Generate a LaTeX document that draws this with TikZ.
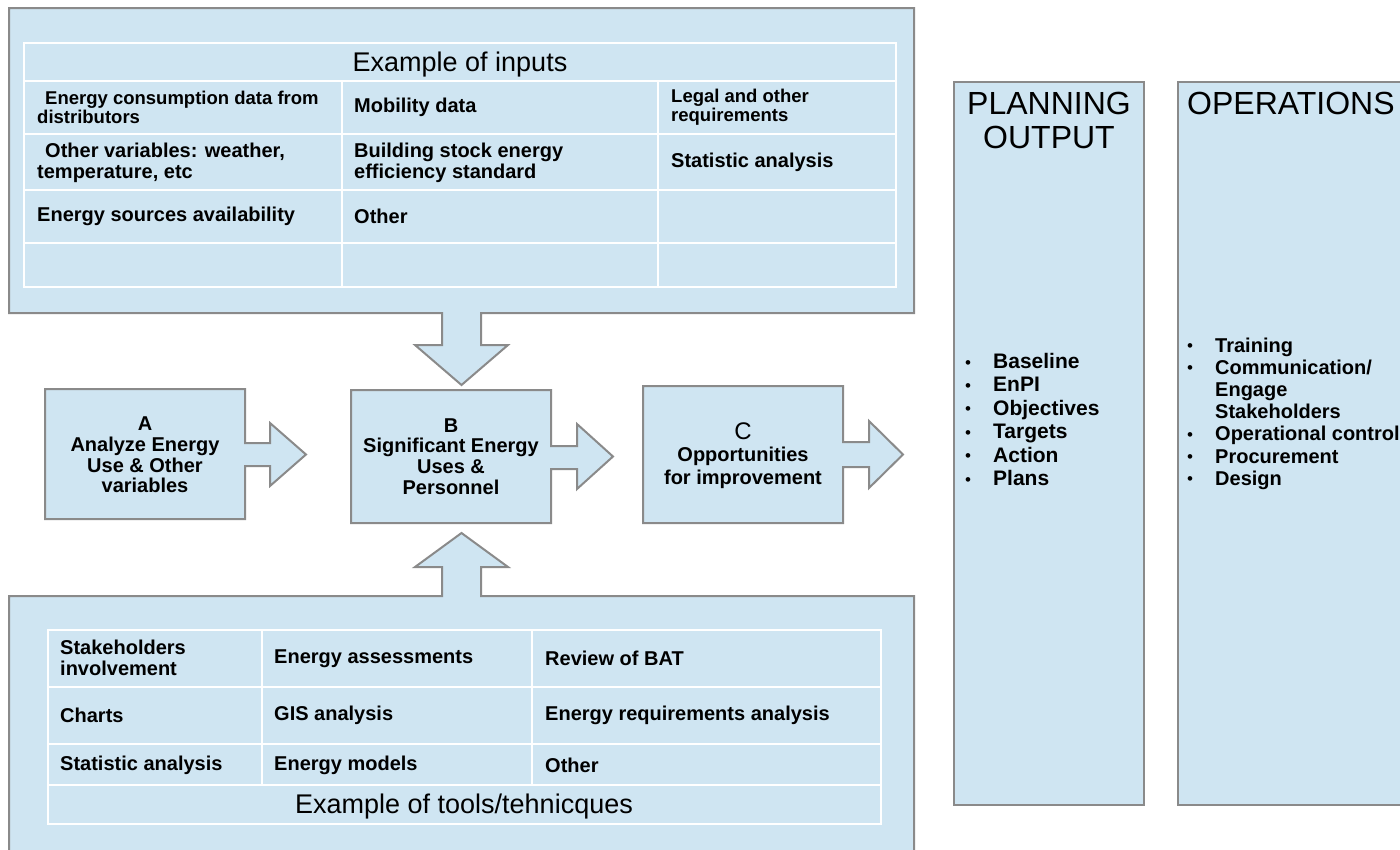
\documentclass[tikz,border=0pt]{standalone}
\usepackage{fontspec}
\setmainfont{Liberation Sans}
\definecolor{boxblue}{RGB}{207,229,242}
\definecolor{edgegray}{RGB}{138,138,138}
\newcommand\cellfont{\fontsize{20}{20.7}\selectfont\bfseries}
\newcommand\smallcellfont{\fontsize{18.5}{19.3}\selectfont\bfseries}
\newcommand\tabtitlefont{\fontsize{27}{30}\selectfont}
\newcommand\bigtitlefont{\fontsize{32}{34}\selectfont}
\newcommand\planfont{\fontsize{21}{23.4}\selectfont\bfseries}
\newcommand\opsfont{\fontsize{20}{22.2}\selectfont\bfseries}
\newcommand\blt{\makebox[28pt][l]{\raisebox{0.5pt}{\fontsize{17}{17}\selectfont\mdseries •}}}
\tikzset{
  panel/.style={fill=boxblue, draw=edgegray, line width=2pt, line join=miter},
  gridline/.style={draw=white, line width=2pt},
  cell/.style={anchor=west, align=left, inner sep=0pt, font=\cellfont},
  smallcell/.style={cell, font=\smallcellfont},
  tabtitle/.style={anchor=base, inner sep=0pt, font=\tabtitlefont},
  boxtext/.style={align=center, inner sep=0pt, font=\cellfont},
}
\begin{document}
\begin{tikzpicture}[x=1pt,y=-1pt]
\useasboundingbox (0,0) rectangle (1400,849);
\clip (0,0) rectangle (1400,849);

% ---------- top panel with down arrow ----------
\draw[panel] (9,8) -- (914,8) -- (914,313) -- (481,313) -- (481,345) -- (508,345)
  -- (461.5,385) -- (415,345) -- (442,345) -- (442,313) -- (9,313) -- cycle;
% table
\draw[gridline] (24,43) rectangle (896,287);
\foreach \yy in {81,134,190,243} \draw[gridline] (24,\yy) -- (896,\yy);
\foreach \xx in {342,658} \draw[gridline] (\xx,81) -- (\xx,287);
\node[tabtitle] (intitle) at (460,71) {Example of inputs};
\node[smallcell] (in11) at (37,107.5) {\hspace*{8pt}Energy consumption data from\\distributors};
\node[cell] (in12) at (354,107.5) {Mobility data};
\node[smallcell] (in13) at (671,107.5) {Legal and other\\requirements};
\node[cell] (in21) at (37,163) {\hspace*{8pt}Other variables: weather,\\temperature, etc};
\node[cell] (in22) at (354,163) {Building stock energy\\efficiency standard};
\node[cell] (in23) at (671,162) {Statistic analysis};
\node[cell] (in31) at (37,216.5) {Energy sources availability};
\node[cell] (in32) at (354,216.5) {Other};

% ---------- bottom panel with up arrow ----------
\draw[panel] (9,596) -- (442,596) -- (442,567) -- (415,567) -- (461.5,533) -- (508,567)
  -- (481,567) -- (481,596) -- (914,596) -- (914,860) -- (9,860) -- cycle;
\draw[gridline] (48,630) rectangle (881,824);
\foreach \yy in {687,744,785} \draw[gridline] (48,\yy) -- (881,\yy);
\foreach \xx in {262,532} \draw[gridline] (\xx,630) -- (\xx,785);
\node[cell] (t11) at (60,657.5) {Stakeholders\\involvement};
\node[cell] (t12) at (274,658.5) {Energy assessments};
\node[cell] (t13) at (545,658.5) {Review of BAT};
\node[cell] (t21) at (60,715) {Charts};
\node[cell] (t22) at (274,715) {GIS analysis};
\node[cell] (t23) at (545,715) {Energy requirements analysis};
\node[cell] (t31) at (60,765) {Statistic analysis};
\node[cell] (t32) at (274,765) {Energy models};
\node[cell] (t33) at (545,765) {Other};
\node[tabtitle] (tooltitle) at (464,813) {Example of tools/tehnicques};

% ---------- boxes A, B, C with arrows ----------
\draw[panel] (45,389) -- (245,389) -- (245,443) -- (270,443) -- (270,423) -- (306,454.5)
  -- (270,486) -- (270,466) -- (245,466) -- (245,519) -- (45,519) -- cycle;
\node[boxtext] (atext) at (145,455) {A\\Analyze Energy\\Use \& Other\\variables};

\draw[panel] (351,390) -- (551,390) -- (551,446) -- (577,446) -- (577,424) -- (613,456.5)
  -- (577,489) -- (577,469) -- (551,469) -- (551,523) -- (351,523) -- cycle;
\node[boxtext] (btext) at (451,456.5) {B\\Significant Energy\\Uses \&\\Personnel};

\draw[panel] (643,386) -- (843,386) -- (843,442) -- (869,442) -- (869,421) -- (903,454.5)
  -- (869,488) -- (869,467) -- (843,467) -- (843,523) -- (643,523) -- cycle;
\node[inner sep=0pt, font=\fontsize{24}{24}\selectfont] (cletter) at (743,431) {C};
\node[boxtext, font=\fontsize{20}{23}\selectfont\bfseries] (ctext) at (743,467.5) {Opportunities\\for improvement};

% ---------- planning output ----------
\draw[panel] (954,82) rectangle (1144,805);
\node[align=center, inner sep=0pt, font=\bigtitlefont] (plantitle) at (1049,120) {PLANNING\\OUTPUT};
\node[anchor=west, align=left, inner sep=0pt, font=\planfont] (planlist) at (965,419.5)
  {\blt Baseline\\\blt EnPI\\\blt Objectives\\\blt Targets\\\blt Action\\\blt Plans};

% ---------- operations ----------
\draw[panel] (1178,82) rectangle (1430,805);
\node[anchor=west, inner sep=0pt, font=\bigtitlefont] (opstitle) at (1187,103) {OPERATIONS};
\node[anchor=west, align=left, inner sep=0pt, font=\opsfont] (opslist) at (1187,413.5)
  {\blt Training\\\blt Communication/\\\hspace*{28pt}Engage\\\hspace*{28pt}Stakeholders\\\blt Operational control\\\blt Procurement\\\blt Design};
\end{tikzpicture}
\end{document}
